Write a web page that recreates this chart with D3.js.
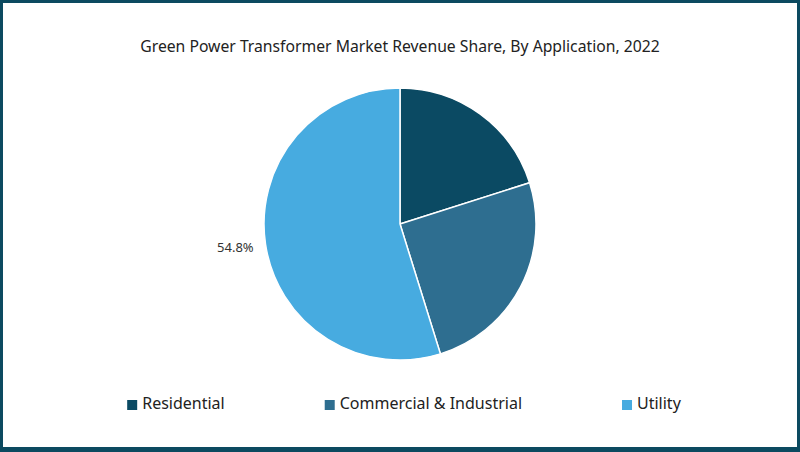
<!DOCTYPE html>
<html><head><meta charset="utf-8">
<script src="https://cdn.jsdelivr.net/npm/d3@7"></script>
<style>html,body{margin:0;padding:0;background:#fff;overflow:hidden}</style>
</head><body>
<svg id="chart" width="800" height="452"></svg>
<script>
const categories = ["Residential", "Commercial & Industrial", "Utility"];
const shares = [20.1, 25.1, 54.8];
const colors = ["#0b4a63", "#2e6e90", "#47abe0"];
const titleText = "Green Power Transformer Market Revenue Share, By Application, 2022";
const labeledCategory = "Utility";

const W = 800, H = 452;
const svg = d3.select("#chart");
const font = "'Source Sans Pro', 'Noto Sans', 'Open Sans', sans-serif";

// frame
svg.append("rect").attr("width", W).attr("height", H).attr("fill", "#0c4a60");
svg.append("rect").attr("x", 3).attr("y", 3).attr("width", W - 6).attr("height", H - 8).attr("fill", "#fff");

// title
const title = svg.append("text").attr("x", 400).attr("y", 52)
  .attr("text-anchor", "middle").attr("font-family", font)
  .attr("font-size", 16).attr("fill", "#222").text(titleText);
const tw = title.node().getComputedTextLength();
title.attr("font-size", 16 * 520 / tw);

// pie
const cx = 400, cy = 224, r = 136;
const data = categories.map((c, i) => ({ cat: c, value: shares[i], color: colors[i] }));
const pie = d3.pie().value(d => d.value).sort(null);
const arc = d3.arc().innerRadius(0).outerRadius(r);
const g = svg.append("g").attr("transform", `translate(${cx},${cy})`);
const arcs = pie(data);
g.selectAll("path").data(arcs).join("path")
  .attr("d", arc).attr("fill", d => d.data.color)
  .attr("stroke", "#fff").attr("stroke-width", 1.5);

// label for Utility
arcs.filter(a => a.data.cat === labeledCategory).forEach(a => {
  const mid = (a.startAngle + a.endAngle) / 2;
  const lx = Math.sin(mid) * (r + 12);
  const ly = -Math.cos(mid) * (r + 12);
  g.append("text").attr("x", lx).attr("y", ly + 2)
    .attr("text-anchor", "end").attr("dominant-baseline", "middle")
    .attr("font-family", font).attr("font-size", 13).attr("fill", "#333")
    .text(d3.format(".1f")(a.data.value) + "%");
});

// legend: items laid out sequentially with equal gaps, centred
const lg = svg.append("g");
const items = categories.map((c, i) => {
  const it = lg.append("g");
  it.append("rect").attr("x", 0).attr("y", -5).attr("width", 10).attr("height", 10).attr("fill", colors[i]);
  const t = it.append("text").attr("x", 15).attr("y", 0).attr("dominant-baseline", "middle")
    .attr("font-family", font).attr("font-size", 16).attr("fill", "#222").text(c);
  return { g: it, w: 15 + t.node().getComputedTextLength() };
});
const gap = 100;
const total = d3.sum(items, d => d.w) + gap * (items.length - 1);
let x0 = 404 - total / 2;
items.forEach(it => { it.g.attr("transform", `translate(${x0},405)`); x0 += it.w + gap; });
</script>
</body></html>
